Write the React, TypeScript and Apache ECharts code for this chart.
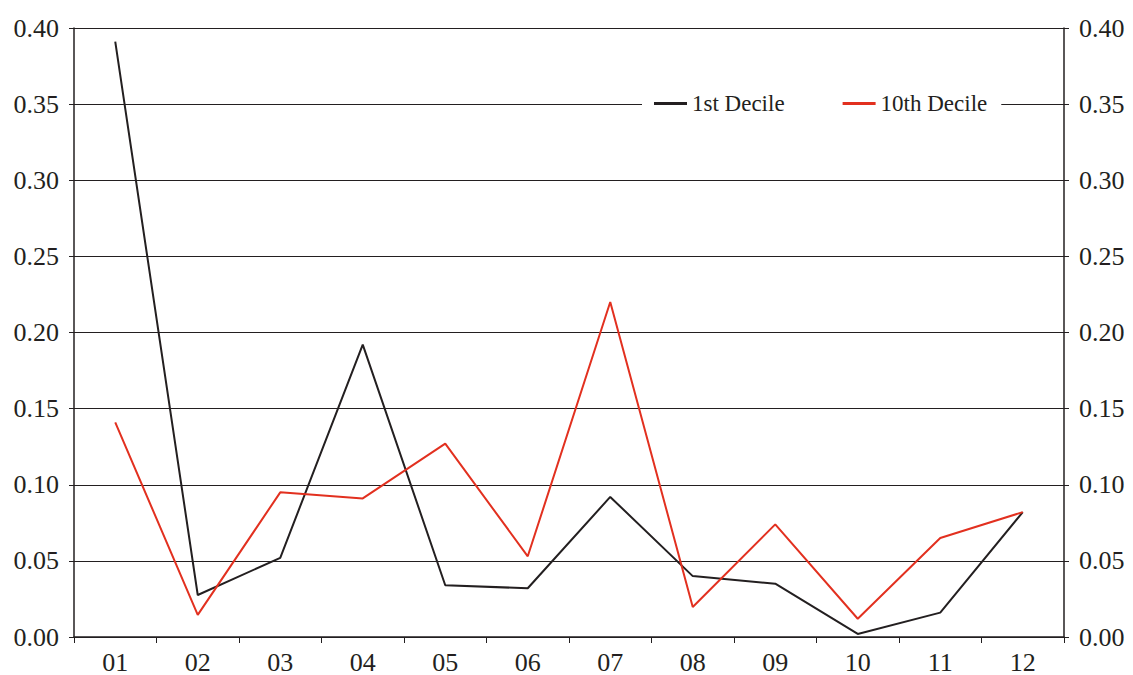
import React, { useEffect, useRef } from "react";
import * as echarts from "echarts";

const categories = ["01", "02", "03", "04", "05", "06", "07", "08", "09", "10", "11", "12"];
const firstDecile = [0.391, 0.0276, 0.052, 0.192, 0.034, 0.032, 0.092, 0.040, 0.035, 0.002, 0.016, 0.082];
const tenthDecile = [0.141, 0.0145, 0.095, 0.091, 0.127, 0.053, 0.220, 0.0197, 0.074, 0.012, 0.065, 0.082];

const FONT = "'Liberation Serif', 'Times New Roman', serif";
const BLACK = "#231f20";
const RED = "#e2301f";

const labelStyle = {
  color: BLACK,
  fontFamily: FONT,
  fontSize: 26,
};

export default function App() {
  const ref = useRef<HTMLDivElement>(null);
  useEffect(() => {
    const chart = echarts.init(ref.current!, null, { renderer: "svg" });
    const yAxisBase = {
      type: "value",
      min: 0,
      max: 0.4,
      interval: 0.05,
      axisLine: { show: true, lineStyle: { color: BLACK, width: 1.5 } },
      axisTick: { show: true, length: 5, lineStyle: { color: BLACK } },
      axisLabel: {
        ...labelStyle,
        margin: 15,
        formatter: (v: number) => v.toFixed(2),
      },
    };
    chart.setOption({
      animation: false,
      textStyle: { fontFamily: FONT, color: BLACK },
      grid: { left: 74, right: 69, top: 28, bottom: 37, containLabel: false },
      legend: {
        left: 642,
        top: 89,
        backgroundColor: "#fff",
        padding: [3, 14, 3, 12],
        itemGap: 58,
        itemWidth: 33,
        itemHeight: 3,
        itemStyle: { borderWidth: 0 },
        icon: "rect",
        textStyle: { fontFamily: FONT, fontSize: 23, color: BLACK },
        data: ["1st Decile", "10th Decile"],
      },
      xAxis: {
        type: "category",
        data: categories,
        boundaryGap: true,
        axisLine: { show: true, lineStyle: { color: BLACK, width: 1.5 } },
        axisTick: { show: true, length: 6, inside: false, lineStyle: { color: BLACK } },
        axisLabel: { ...labelStyle, margin: 12 },
      },
      yAxis: [
        {
          ...yAxisBase,
          position: "left",
          splitLine: { show: true, lineStyle: { color: BLACK, width: 1 } },
        },
        {
          ...yAxisBase,
          position: "right",
          splitLine: { show: false },
        },
      ],
      series: [
        {
          name: "1st Decile",
          type: "line",
          data: firstDecile,
          symbol: "none",
          lineStyle: { color: BLACK, width: 2 },
          itemStyle: { color: BLACK },
        },
        {
          name: "10th Decile",
          type: "line",
          data: tenthDecile,
          symbol: "none",
          lineStyle: { color: RED, width: 2 },
          itemStyle: { color: RED },
        },
      ],
    });
    return () => chart.dispose();
  }, []);
  return <div ref={ref} style={{ width: 1133, height: 675, position: "absolute", left: 0, top: 0 }} />;
}
